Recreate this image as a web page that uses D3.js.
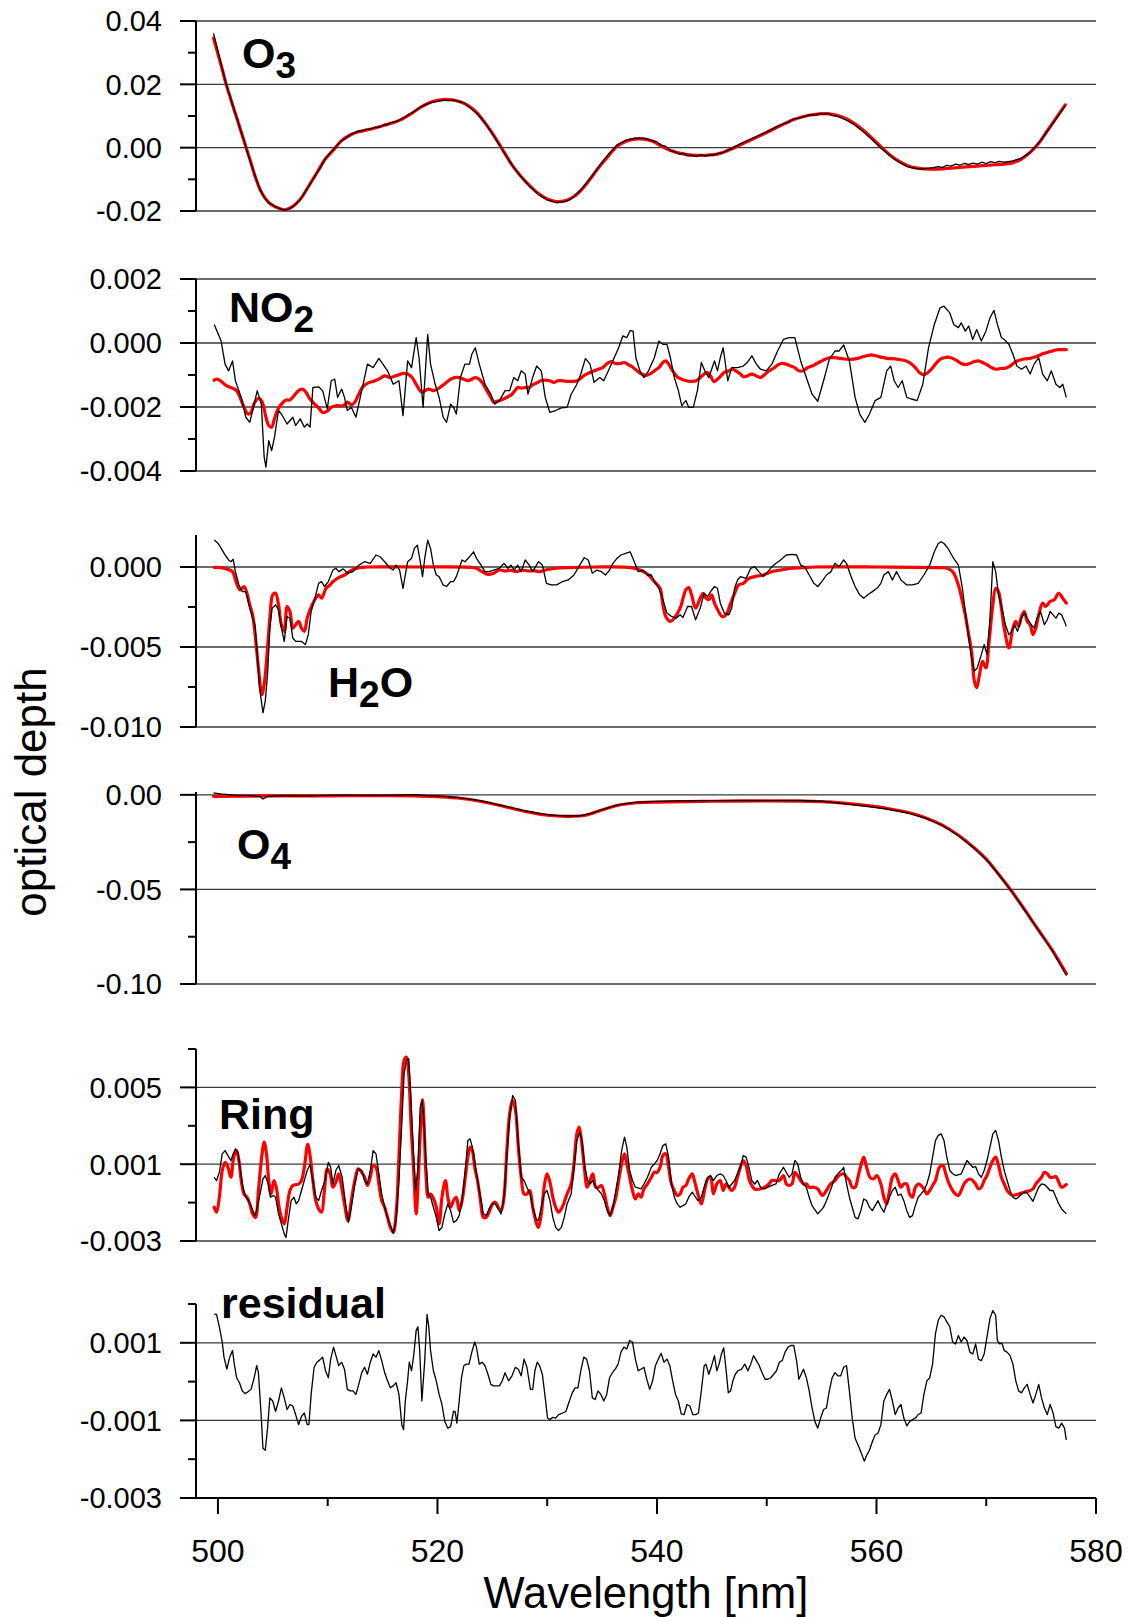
<!DOCTYPE html>
<html>
<head>
<meta charset="utf-8">
<script src="https://cdn.jsdelivr.net/npm/d3@7"></script>
<style>
  body { margin: 0; background: #fff; }
  svg { display: block; }
  text { font-family: "Liberation Sans", Arial, Helvetica, sans-serif; fill: #000; }
</style>
</head>
<body>
<svg id="chart" width="1128" height="1617"></svg>
<script>
// ---------------------------------------------------------------------------
// DOAS fit, 500-577 nm: measured optical depth per absorber (black) and the
// fitted cross section (red); bottom panel shows the fit residual.
// Each series is a list of [wavelength (nm), optical depth].
// ---------------------------------------------------------------------------

const wavelengthTicks = [500, 520, 540, 560, 580];
const wavelengthMinorTicks = [510, 530, 550, 570];

// ---- O3 ----
const o3Ticks = [0.04, 0.02, 0.00, -0.02];
const o3Minor = [0.03, 0.01, -0.01];
const o3Fit = [
  [499.6,0.0346],[500.0,0.0296],[500.4,0.0246],[500.75,0.02],[501.2,0.015],[501.6,0.0106],[502.0,0.0063],
  [502.3,0.003],[502.57,0.0],[503.0,-0.0047],[503.4,-0.0092],[503.85,-0.0133],[504.3,-0.0160],[504.8,-0.0178],
  [505.37,-0.0189],[506.13,-0.0196],[506.8,-0.0186],[507.5,-0.0163],[508.2,-0.0125],[509.0,-0.008],[509.8,-0.0035],
  [510.53,-0.0007],[511.2,0.002],[512.05,0.004],[512.8,0.005],[513.57,0.0056],[514.3,0.0062],[515.08,0.007],
  [515.8,0.0077],[516.6,0.0087],[517.5,0.0105],[518.5,0.0128],[519.5,0.0145],[520.5,0.0152],[521.3,0.0151],
  [522.0,0.0146],[522.8,0.0133],[523.6,0.011],[524.4,0.0075],[525.2,0.0035],[526.0,-0.001],[526.8,-0.0055],
  [527.6,-0.009],[528.4,-0.012],[529.2,-0.0145],[530.0,-0.0162],[530.8,-0.017],[531.6,-0.0168],[532.4,-0.0155],
  [533.2,-0.013],[534.0,-0.0095],[534.8,-0.0058],[535.6,-0.0025],[536.4,0.0005],[537.2,0.002],[538.0,0.0027],
  [538.8,0.0027],[539.6,0.002],[540.4,0.0005],[541.2,-0.0008],[542.0,-0.0017],[542.8,-0.0022],[543.6,-0.0024],
  [544.4,-0.0024],[545.2,-0.0022],[546.0,-0.0015],[546.8,-0.0004],[547.6,0.0009],[548.4,0.0022],[549.2,0.0035],
  [550.0,0.0048],[550.8,0.0062],[551.6,0.0075],[552.4,0.0088],[553.2,0.0097],[554.0,0.0103],[554.8,0.0107],
  [555.6,0.0107],[556.4,0.0102],[557.2,0.0092],[558.0,0.0076],[558.8,0.0055],[559.6,0.003],[560.4,0.0003],
  [561.2,-0.0022],[562.0,-0.0042],[562.8,-0.0056],[563.6,-0.0064],[564.4,-0.0067],[565.2,-0.0068],[566.0,-0.0067],
  [566.8,-0.0065],[567.6,-0.0062],[568.4,-0.006],[569.2,-0.0058],[570.0,-0.0056],[570.8,-0.0054],[571.6,-0.0052],
  [572.4,-0.0048],[573.2,-0.0036],[574.0,-0.0015],[574.8,0.0015],[575.6,0.0055],[576.4,0.0095],[577.2,0.0135]
];
const o3Meas = [
  [499.6,0.0361],[500.0,0.0305],[500.4,0.0249],[500.75,0.0201],[501.2,0.0149],[501.6,0.0107],[502.0,0.0061],
  [502.3,0.0031],[502.57,-0.0002],[503.0,-0.0049],[503.4,-0.009],[503.85,-0.0134],[504.2,-0.0155],[504.6,-0.0175],
  [505.0,-0.0181],[505.37,-0.0189],[505.8,-0.0195],[506.13,-0.0197],[506.5,-0.0193],[506.9,-0.0184],[507.5,-0.0164],
  [508.2,-0.0126],[508.6,-0.0103],[509.0,-0.0081],[509.4,-0.006],[509.8,-0.0033],[510.2,-0.0017],[510.53,-0.0006],
  [511.2,0.0021],[511.7,0.0032],[512.05,0.0041],[512.8,0.0052],[513.3,0.0055],[513.57,0.0058],[514.0,0.006],
  [514.3,0.0064],[514.7,0.0065],[515.08,0.0071],[515.5,0.0074],[515.8,0.008],[516.2,0.0082],[516.6,0.0089],
  [517.0,0.0096],[517.5,0.0107],[518.0,0.0117],[518.5,0.013],[519.0,0.0137],[519.5,0.0143],[520.0,0.0146],
  [520.5,0.015],[521.0,0.0149],[521.5,0.015],[522.0,0.0145],[522.4,0.0142],[522.8,0.0131],[523.6,0.0108],
  [524.4,0.0076],[525.2,0.0033],[526.0,-0.0012],[526.8,-0.0054],[527.6,-0.0092],[528.4,-0.0122],[529.2,-0.0148],
  [530.0,-0.0165],[530.5,-0.017],[530.8,-0.0174],[531.2,-0.0172],[531.6,-0.017],[532.0,-0.0166],[532.4,-0.0156],
  [533.2,-0.0128],[534.0,-0.0093],[534.8,-0.0055],[535.6,-0.002],[536.4,0.001],[537.2,0.0024],[538.0,0.003],
  [538.8,0.003],[539.6,0.0022],[540.0,0.0018],[540.4,0.0008],[540.8,0.0004],[541.2,-0.001],[541.6,-0.0012],
  [542.0,-0.002],[542.4,-0.0018],[542.8,-0.0026],[543.2,-0.0024],[543.6,-0.0028],[544.0,-0.0022],[544.4,-0.0027],
  [544.8,-0.0023],[545.2,-0.0024],[545.6,-0.0018],[546.0,-0.0016],[546.8,-0.0002],[547.6,0.0012],[548.4,0.0025],
  [549.2,0.0037],[550.0,0.005],[550.8,0.0064],[551.6,0.0077],[552.0,0.0081],[552.4,0.009],[553.2,0.0096],
  [553.6,0.01],[554.0,0.0104],[554.4,0.0102],[554.8,0.0108],[555.2,0.0105],[555.6,0.0109],[556.0,0.0101],
  [556.4,0.01],[557.2,0.0088],[558.0,0.0072],[558.8,0.005],[559.6,0.0025],[560.4,-0.0001],[561.2,-0.0025],
  [562.0,-0.0045],[562.8,-0.006],[563.6,-0.0066],[564.0,-0.0068],[564.4,-0.0066],[565.2,-0.0063],[565.6,-0.006],
  [566.0,-0.0062],[566.4,-0.0056],[566.8,-0.0058],[567.2,-0.0052],[567.6,-0.0055],[568.0,-0.005],[568.4,-0.0053],
  [568.8,-0.0049],[569.2,-0.0052],[569.6,-0.0046],[570.0,-0.005],[570.4,-0.0044],[570.8,-0.0047],[571.2,-0.0043],
  [571.6,-0.0046],[572.0,-0.0044],[572.4,-0.0042],[573.2,-0.0033],[574.0,-0.0014],[574.8,0.0016],[575.6,0.0054],
  [576.4,0.0093],[577.2,0.0132]
];

// ---- NO2 ----
const no2Ticks = [0.002, 0.000, -0.002, -0.004];
const no2Minor = [0.001, -0.001, -0.003];
const no2Fit = [
  [499.66,-1.16e-3],[499.92,-1.13e-3],[500.29,-1.2e-3],[500.81,-1.34e-3],[501.33,-1.41e-3],[501.7,-1.49e-3],
  [502.01,-1.7e-3],[502.38,-2.01e-3],[502.74,-2.22e-3],[503.01,-2.17e-3],[503.27,-1.91e-3],[503.58,-1.75e-3],
  [503.84,-1.75e-3],[504.1,-1.91e-3],[504.37,-2.32e-3],[504.63,-2.58e-3],[504.89,-2.63e-3],[505.15,-2.37e-3],
  [505.41,-2.11e-3],[505.78,-1.91e-3],[506.2,-1.78e-3],[506.56,-1.78e-3],[506.93,-1.65e-3],[507.35,-1.49e-3],
  [507.71,-1.44e-3],[508.02,-1.54e-3],[508.39,-1.75e-3],[508.81,-1.91e-3],[509.17,-2.03e-3],[509.54,-2.17e-3],
  [509.96,-2.13e-3],[510.32,-2.01e-3],[510.74,-1.96e-3],[511.42,-1.96e-3],[511.79,-1.85e-3],[512.15,-1.93e-3],
  [512.47,-1.85e-3],[512.83,-1.6e-3],[513.2,-1.37e-3],[513.62,-1.26e-3],[514.14,-1.2e-3],[514.66,-1.13e-3],
  [515.19,-1.03e-3],[515.71,-1.08e-3],[516.13,-1.03e-3],[516.49,-0.99e-3],[516.86,-0.95e-3],[517.28,-0.97e-3],
  [517.69,-1.08e-3],[518.06,-1.29e-3],[518.32,-1.44e-3],[518.58,-1.54e-3],[518.84,-1.49e-3],[519.21,-1.44e-3],
  [519.63,-1.49e-3],[519.99,-1.44e-3],[520.41,-1.34e-3],[520.83,-1.23e-3],[521.2,-1.13e-3],[521.56,-1.08e-3],
  [521.98,-1.08e-3],[522.4,-1.13e-3],[522.77,-1.18e-3],[523.13,-1.13e-3],[523.45,-1.08e-3],[523.81,-1.13e-3],
  [524.18,-1.29e-3],[524.5,-1.49e-3],[524.86,-1.7e-3],[525.12,-1.85e-3],[525.38,-1.82e-3],[525.64,-1.8e-3],
  [526.01,-1.75e-3],[526.43,-1.68e-3],[526.79,-1.6e-3],[527.1,-1.47e-3],[527.31,-1.39e-3],[527.63,-1.41e-3],
  [527.99,-1.39e-3],[528.36,-1.39e-3],[528.67,-1.31e-3],[529.04,-1.25e-3],[529.4,-1.18e-3],[529.82,-1.16e-3],
  [530.24,-1.18e-3],[530.61,-1.23e-3],[530.97,-1.18e-3],[531.39,-1.18e-3],[531.91,-1.2e-3],[532.33,-1.2e-3],
  [532.75,-1.18e-3],[533.06,-1.1e-3],[533.48,-0.99e-3],[533.9,-0.92e-3],[534.27,-0.87e-3],[534.63,-0.82e-3],
  [535.05,-0.77e-3],[535.47,-0.64e-3],[535.83,-0.58e-3],[536.2,-0.64e-3],[536.62,-0.64e-3],[537.04,-0.61e-3],
  [537.4,-0.68e-3],[537.77,-0.75e-3],[538.19,-0.87e-3],[538.6,-0.97e-3],[539.02,-1.01e-3],[539.34,-0.97e-3],
  [539.76,-0.87e-3],[540.17,-0.77e-3],[540.54,-0.61e-3],[540.8,-0.56e-3],[541.06,-0.66e-3],[541.43,-0.87e-3],
  [541.85,-1.06e-3],[542.26,-1.13e-3],[542.68,-1.18e-3],[543.15,-1.2e-3],[543.57,-1.18e-3],[543.94,-1.08e-3],
  [544.3,-0.97e-3],[544.62,-0.92e-3],[544.88,-1.03e-3],[545.19,-1.21e-3],[545.51,-1.13e-3],[545.82,-1.03e-3],
  [546.13,-0.92e-3],[546.55,-0.87e-3],[546.87,-0.82e-3],[547.18,-0.87e-3],[547.6,-0.97e-3],[547.91,-1.06e-3],
  [548.22,-1.03e-3],[548.64,-0.97e-3],[549.06,-1.03e-3],[549.43,-1.08e-3],[549.79,-0.99e-3],[550.21,-0.87e-3],
  [550.63,-0.79e-3],[550.99,-0.69e-3],[551.36,-0.64e-3],[551.78,-0.66e-3],[552.2,-0.72e-3],[552.56,-0.77e-3],
  [552.93,-0.87e-3],[553.35,-0.87e-3],[553.71,-0.77e-3],[554.13,-0.72e-3],[554.55,-0.64e-3],[554.91,-0.58e-3],
  [555.33,-0.51e-3],[555.7,-0.46e-3],[556.22,-0.46e-3],[556.74,-0.48e-3],[557.53,-0.51e-3],[558.31,-0.48e-3],
  [558.68,-0.44e-3],[559.1,-0.4e-3],[559.52,-0.37e-3],[559.94,-0.4e-3],[560.4,-0.44e-3],[560.93,-0.48e-3],
  [561.45,-0.49e-3],[561.97,-0.51e-3],[562.49,-0.54e-3],[563.02,-0.61e-3],[563.54,-0.77e-3],[563.91,-0.92e-3],
  [564.32,-0.99e-3],[564.69,-0.92e-3],[565.0,-0.82e-3],[565.37,-0.66e-3],[565.79,-0.51e-3],[566.15,-0.46e-3],
  [566.52,-0.44e-3],[566.94,-0.48e-3],[567.36,-0.56e-3],[567.72,-0.64e-3],[568.09,-0.68e-3],[568.51,-0.64e-3],
  [568.92,-0.58e-3],[569.29,-0.56e-3],[569.66,-0.61e-3],[570.07,-0.68e-3],[570.49,-0.77e-3],[570.91,-0.82e-3],
  [571.38,-0.79e-3],[571.75,-0.79e-3],[572.17,-0.72e-3],[572.58,-0.61e-3],[573.0,-0.54e-3],[573.47,-0.5e-3],
  [574.0,-0.48e-3],[574.41,-0.44e-3],[574.78,-0.39e-3],[575.2,-0.33e-3],[575.62,-0.29e-3],[576.03,-0.25e-3],
  [576.45,-0.21e-3],[576.87,-0.21e-3],[577.29,-0.21e-3]
];
const no2Meas = [
  [499.66,0.58e-3],[500.29,0.06e-3],[500.65,-0.66e-3],[500.97,-0.87e-3],[501.33,-0.56e-3],[501.59,-1.18e-3],
  [502.12,-1.7e-3],[502.54,-2.32e-3],[502.9,-2.48e-3],[503.16,-2.11e-3],[503.58,-1.49e-3],[503.95,-1.91e-3],
  [504.21,-3.56e-3],[504.37,-3.88e-3],[504.63,-3.05e-3],[504.89,-3.36e-3],[505.15,-2.94e-3],[505.52,-2.11e-3],
  [505.78,-2.22e-3],[506.3,-2.53e-3],[506.82,-2.32e-3],[507.08,-2.58e-3],[507.5,-2.37e-3],[507.87,-2.63e-3],
  [508.13,-2.53e-3],[508.39,-2.63e-3],[508.65,-1.39e-3],[509.17,-1.37e-3],[509.54,-1.49e-3],[509.96,-2.06e-3],
  [510.32,-1.18e-3],[510.64,-1.13e-3],[510.9,-1.7e-3],[511.27,-1.44e-3],[511.53,-1.7e-3],[511.79,-2.11e-3],
  [512.15,-2.01e-3],[512.57,-2.32e-3],[513.1,-1.49e-3],[513.62,-0.66e-3],[514.14,-0.77e-3],[514.66,-0.48e-3],
  [515.03,-0.66e-3],[515.45,-0.87e-3],[515.97,-1.29e-3],[516.49,-1.18e-3],[516.86,-2.27e-3],[517.28,-0.56e-3],
  [517.64,-0.77e-3],[518.06,0.17e-3],[518.32,-0.46e-3],[518.69,-2.01e-3],[519.11,0.27e-3],[519.37,-0.66e-3],
  [519.79,-1.29e-3],[520.15,-1.7e-3],[520.52,-2.32e-3],[520.83,-2.48e-3],[521.2,-1.91e-3],[521.46,-2.01e-3],
  [521.72,-2.22e-3],[522.09,-1.08e-3],[522.5,-0.66e-3],[522.92,-0.66e-3],[523.13,-0.35e-3],[523.45,-0.15e-3],
  [523.81,-0.66e-3],[524.33,-1.29e-3],[524.86,-1.6e-3],[525.22,-1.91e-3],[525.64,-1.8e-3],[526.16,-1.49e-3],
  [526.58,-1.49e-3],[526.95,-1.08e-3],[527.31,-1.18e-3],[527.63,-0.87e-3],[527.99,-0.97e-3],[528.25,-1.6e-3],
  [528.67,-1.08e-3],[529.04,-0.72e-3],[529.46,-0.87e-3],[529.82,-1.7e-3],[530.24,-2.17e-3],[530.76,-2.11e-3],
  [531.29,-2.03e-3],[531.81,-2.01e-3],[532.18,-1.6e-3],[532.7,-1.29e-3],[533.06,-0.97e-3],[533.48,-0.48e-3],
  [533.9,-0.66e-3],[534.27,-1.23e-3],[534.79,-1.08e-3],[535.15,-1.18e-3],[535.57,-0.87e-3],[536.1,-0.46e-3],
  [536.51,-0.15e-3],[536.88,0.22e-3],[537.25,0.17e-3],[537.56,0.39e-3],[537.82,0.37e-3],[538.08,-0.46e-3],
  [538.45,-0.87e-3],[538.81,-1.08e-3],[539.23,-0.87e-3],[539.76,-0.46e-3],[540.17,0.06e-3],[540.54,-0.04e-3],
  [540.91,-0.04e-3],[541.22,-0.46e-3],[541.58,-1.08e-3],[541.95,-1.49e-3],[542.26,-1.96e-3],[542.63,-1.8e-3],
  [542.89,-2.01e-3],[543.31,-2.01e-3],[543.68,-1.49e-3],[544.04,-0.61e-3],[544.36,-0.87e-3],[544.72,-1.08e-3],
  [545.24,-0.56e-3],[545.51,-0.87e-3],[545.77,-0.46e-3],[546.03,-0.15e-3],[546.45,-1.18e-3],[546.81,-0.77e-3],
  [547.34,-0.77e-3],[547.86,-0.72e-3],[548.22,-0.61e-3],[548.64,-0.4e-3],[549.06,-0.66e-3],[549.43,-0.82e-3],
  [549.95,-0.87e-3],[550.47,-0.66e-3],[550.99,-0.25e-3],[551.52,0.11e-3],[552.04,0.17e-3],[552.56,0.17e-3],
  [553.09,-0.56e-3],[553.61,-1.08e-3],[554.13,-1.6e-3],[554.65,-1.82e-3],[555.18,-1.18e-3],[555.7,-0.51e-3],
  [556.22,-0.25e-3],[556.59,-0.25e-3],[557.01,-0.06e-3],[557.53,-0.56e-3],[558.05,-1.7e-3],[558.47,-2.22e-3],
  [558.94,-2.48e-3],[559.36,-2.22e-3],[559.88,-1.8e-3],[560.4,-1.7e-3],[560.93,-0.87e-3],[561.29,-0.72e-3],
  [561.61,-1.18e-3],[561.97,-1.39e-3],[562.34,-1.18e-3],[562.76,-1.7e-3],[563.17,-1.75e-3],[563.7,-1.8e-3],
  [564.22,-1.29e-3],[564.74,-0.15e-3],[565.27,0.58e-3],[565.79,1.1e-3],[566.15,1.15e-3],[566.68,0.94e-3],
  [567.04,0.58e-3],[567.46,0.48e-3],[567.72,0.63e-3],[568.09,0.37e-3],[568.4,0.53e-3],[568.77,0.11e-3],
  [569.13,0.42e-3],[569.55,0.06e-3],[569.97,0.37e-3],[570.34,0.79e-3],[570.7,1.02e-3],[571.02,0.58e-3],
  [571.38,0.17e-3],[571.64,0.11e-3],[572.06,-0.04e-3],[572.43,-0.35e-3],[572.79,-0.72e-3],[573.21,-0.82e-3],
  [573.63,-0.72e-3],[574.0,-0.97e-3],[574.36,-0.66e-3],[574.78,-0.46e-3],[575.14,-0.97e-3],[575.56,-1.18e-3],
  [575.93,-0.87e-3],[576.35,-1.29e-3],[576.71,-1.39e-3],[576.97,-1.29e-3],[577.29,-1.7e-3]
];

// ---- H2O ----
const h2oTicks = [0.000, -0.005, -0.010];
const h2oMinor = [-0.0025, -0.0075];
const h2oFit = [
  [499.66,-0.02e-3],[500.29,-0.04e-3],[501.07,-0.19e-3],[501.33,-0.29e-3],[501.7,-1.02e-3],[502.01,-1.43e-3],
  [502.38,-1.22e-3],[502.64,-1.64e-3],[502.9,-2.37e-3],[503.16,-2.99e-3],[503.42,-4.44e-3],[503.69,-6.31e-3],
  [504.0,-7.97e-3],[504.21,-7.34e-3],[504.47,-5.48e-3],[504.73,-3.2e-3],[504.99,-1.74e-3],[505.25,-1.64e-3],
  [505.52,-2.37e-3],[505.78,-3.61e-3],[506.04,-4.02e-3],[506.3,-2.47e-3],[506.56,-2.78e-3],[506.82,-3.82e-3],
  [507.08,-3.61e-3],[507.35,-3.4e-3],[507.61,-3.82e-3],[507.87,-4.02e-3],[508.13,-3.2e-3],[508.39,-2.68e-3],
  [508.91,-1.95e-3],[509.17,-1.74e-3],[509.44,-1.95e-3],[509.85,-1.33e-3],[510.22,-1.12e-3],[510.48,-0.91e-3],
  [511.0,-0.66e-3],[511.53,-0.5e-3],[512.05,-0.25e-3],[512.83,-0.04e-3],[513.62,0.0],[518.0,0.0],[523.03,-0.02e-3],
  [523.55,-0.08e-3],[524.07,-0.29e-3],[524.6,-0.46e-3],[525.12,-0.39e-3],[525.64,-0.19e-3],[526.16,-0.25e-3],
  [526.69,-0.21e-3],[527.21,-0.29e-3],[527.73,-0.19e-3],[528.25,-0.25e-3],[528.78,-0.23e-3],[529.3,-0.29e-3],
  [529.82,-0.19e-3],[530.87,-0.08e-3],[531.91,-0.04e-3],[534.53,0.0],[537.66,-0.04e-3],[538.45,-0.19e-3],
  [539.23,-0.5e-3],[539.76,-0.91e-3],[540.28,-1.33e-3],[540.54,-2.37e-3],[540.8,-3.09e-3],[541.22,-3.4e-3],
  [541.58,-3.2e-3],[542.11,-2.57e-3],[542.63,-1.43e-3],[542.89,-1.29e-3],[543.15,-1.74e-3],[543.52,-2.57e-3],
  [543.94,-1.95e-3],[544.2,-1.64e-3],[544.46,-1.95e-3],[544.72,-2.05e-3],[544.98,-1.74e-3],[545.24,-2.26e-3],
  [545.61,-2.78e-3],[545.93,-3.09e-3],[546.29,-2.99e-3],[546.66,-2.37e-3],[547.07,-1.64e-3],[547.44,-1.12e-3],
  [547.86,-1.02e-3],[548.38,-0.71e-3],[548.9,-0.6e-3],[549.69,-0.5e-3],[550.47,-0.29e-3],[551.26,-0.19e-3],
  [552.3,-0.08e-3],[553.35,-0.04e-3],[554.39,0.0],[560.0,0.0],[565.89,-0.04e-3],[566.42,-0.08e-3],
  [566.94,-0.29e-3],[567.46,-1.12e-3],[567.83,-2.16e-3],[568.09,-2.99e-3],[568.4,-4.23e-3],[568.66,-5.27e-3],
  [568.92,-7.14e-3],[569.13,-7.55e-3],[569.39,-6.72e-3],[569.66,-5.89e-3],[569.97,-6.31e-3],[570.23,-4.85e-3],
  [570.6,-2.37e-3],[570.86,-1.33e-3],[571.12,-1.54e-3],[571.38,-2.57e-3],[571.64,-3.82e-3],[572.06,-5.06e-3],
  [572.43,-3.82e-3],[572.69,-3.4e-3],[572.95,-3.71e-3],[573.21,-3.09e-3],[573.47,-2.78e-3],[573.73,-3.4e-3],
  [574.0,-3.61e-3],[574.26,-4.23e-3],[574.52,-3.82e-3],[574.78,-2.99e-3],[575.14,-2.26e-3],[575.4,-2.47e-3],
  [575.82,-2.16e-3],[576.19,-2.05e-3],[576.61,-1.64e-3],[576.97,-1.95e-3],[577.29,-2.26e-3]
];
const h2oMeas = [
  [499.66,1.68e-3],[500.03,1.47e-3],[500.39,1.06e-3],[500.65,0.75e-3],[500.97,0.44e-3],[501.18,0.33e-3],
  [501.39,0.48e-3],[501.59,-0.29e-3],[501.91,-1.12e-3],[502.22,-1.54e-3],[502.54,-1.54e-3],[502.9,-2.57e-3],
  [503.16,-3.2e-3],[503.37,-3.61e-3],[503.58,-5.48e-3],[503.79,-7.55e-3],[504.1,-9.11e-3],[504.31,-8.38e-3],
  [504.52,-6.72e-3],[504.73,-3.82e-3],[504.94,-2.57e-3],[505.25,-2.37e-3],[505.52,-2.68e-3],[505.78,-3.82e-3],
  [506.04,-4.65e-3],[506.3,-3.09e-3],[506.56,-3.2e-3],[506.82,-4.44e-3],[507.08,-4.65e-3],[507.61,-4.65e-3],
  [507.97,-4.85e-3],[508.23,-4.23e-3],[508.49,-2.78e-3],[508.91,-1.74e-3],[509.17,-1.02e-3],[509.44,-0.91e-3],
  [509.7,-1.22e-3],[510.06,-0.91e-3],[510.48,-0.19e-3],[510.74,-0.08e-3],[511.0,-0.29e-3],[511.42,-0.12e-3],
  [511.79,-0.39e-3],[512.31,-0.29e-3],[512.83,0.12e-3],[513.36,0.33e-3],[513.88,0.23e-3],[514.4,0.75e-3],
  [514.77,0.64e-3],[515.19,0.33e-3],[515.71,-0.08e-3],[515.97,-0.19e-3],[516.23,0.12e-3],[516.55,-0.19e-3],
  [516.86,-1.33e-3],[517.28,0.33e-3],[517.64,0.54e-3],[517.9,1.16e-3],[518.17,1.37e-3],[518.43,0.33e-3],
  [518.64,-0.6e-3],[518.84,0.54e-3],[519.11,1.68e-3],[519.37,1.16e-3],[519.63,0.12e-3],[519.89,-0.5e-3],
  [520.15,-0.6e-3],[520.52,-1.12e-3],[520.83,-1.22e-3],[521.2,-0.91e-3],[521.46,-0.91e-3],[521.72,-0.6e-3],
  [521.98,-0.08e-3],[522.24,0.44e-3],[522.5,0.33e-3],[522.92,0.64e-3],[523.29,0.95e-3],[523.55,0.54e-3],
  [523.97,0.12e-3],[524.33,-0.29e-3],[524.7,-0.29e-3],[525.12,-0.19e-3],[525.64,-0.08e-3],[526.06,0.23e-3],
  [526.43,-0.08e-3],[526.69,0.12e-3],[527.0,-0.19e-3],[527.31,0.12e-3],[527.63,-0.29e-3],[527.99,0.44e-3],
  [528.36,0.12e-3],[528.67,-0.29e-3],[528.94,0.02e-3],[529.2,0.33e-3],[529.56,0.12e-3],[529.93,-1.02e-3],
  [530.35,-1.12e-3],[530.87,-1.12e-3],[531.39,-0.91e-3],[531.91,-0.81e-3],[532.44,-0.5e-3],[532.96,0.12e-3],
  [533.38,0.58e-3],[533.74,0.44e-3],[534.11,-0.39e-3],[534.53,-0.19e-3],[534.94,-0.29e-3],[535.31,-0.5e-3],
  [535.68,-0.19e-3],[535.99,0.23e-3],[536.36,0.54e-3],[536.72,0.75e-3],[537.14,0.85e-3],[537.56,0.95e-3],
  [537.93,0.33e-3],[538.29,-0.29e-3],[538.71,-0.19e-3],[539.13,-0.5e-3],[539.49,-0.5e-3],[539.76,-0.91e-3],
  [540.17,-1.33e-3],[540.54,-2.05e-3],[540.91,-2.88e-3],[541.32,-3.09e-3],[541.74,-3.2e-3],[542.11,-2.99e-3],
  [542.37,-3.15e-3],[542.79,-2.47e-3],[543.15,-2.47e-3],[543.52,-3.3e-3],[543.94,-2.57e-3],[544.3,-1.64e-3],
  [544.62,-1.85e-3],[544.88,-1.54e-3],[545.24,-1.22e-3],[545.51,-1.33e-3],[545.77,-2.26e-3],[546.13,-2.88e-3],
  [546.55,-2.99e-3],[546.81,-2.57e-3],[547.07,-1.33e-3],[547.34,-0.81e-3],[547.6,-0.6e-3],[548.12,-0.71e-3],
  [548.54,-0.08e-3],[548.9,0.02e-3],[549.27,-0.29e-3],[549.69,-0.6e-3],[550.11,-0.29e-3],[550.47,0.02e-3],
  [550.84,0.23e-3],[551.26,0.44e-3],[551.78,0.75e-3],[552.3,0.79e-3],[552.72,0.75e-3],[553.09,0.12e-3],
  [553.45,0.02e-3],[553.87,-0.5e-3],[554.29,-1.02e-3],[554.65,-1.22e-3],[555.02,-0.91e-3],[555.44,-0.5e-3],
  [555.85,-0.29e-3],[556.22,0.23e-3],[556.59,0.02e-3],[557.01,0.44e-3],[557.27,0.23e-3],[557.63,-0.5e-3],
  [558.05,-1.22e-3],[558.47,-1.74e-3],[558.84,-1.95e-3],[559.2,-1.74e-3],[559.62,-1.54e-3],[560.04,-1.33e-3],
  [560.4,-1.02e-3],[560.67,-0.5e-3],[561.08,-0.29e-3],[561.45,-0.81e-3],[561.82,-0.29e-3],[562.23,-0.81e-3],
  [562.76,-1.12e-3],[563.28,-1.12e-3],[563.8,-1.02e-3],[564.32,-0.5e-3],[564.85,0.12e-3],[565.27,0.95e-3],
  [565.63,1.47e-3],[565.89,1.58e-3],[566.15,1.47e-3],[566.52,1.16e-3],[566.94,0.64e-3],[567.46,0.12e-3],
  [567.83,-1.33e-3],[568.24,-3.61e-3],[568.61,-5.48e-3],[568.92,-6.51e-3],[569.18,-6.31e-3],[569.55,-5.48e-3],
  [569.81,-4.85e-3],[570.07,-5.48e-3],[570.34,-3.2e-3],[570.6,0.33e-3],[570.86,-0.29e-3],[571.12,-1.74e-3],
  [571.43,-2.57e-3],[571.75,-3.61e-3],[572.06,-4.23e-3],[572.32,-4.02e-3],[572.58,-3.61e-3],[572.85,-4.02e-3],
  [573.21,-3.2e-3],[573.47,-2.88e-3],[573.73,-3.2e-3],[574.1,-3.61e-3],[574.36,-3.82e-3],[574.62,-3.2e-3],
  [574.94,-2.78e-3],[575.3,-3.61e-3],[575.56,-3.3e-3],[575.82,-2.78e-3],[576.09,-2.99e-3],[576.35,-3.2e-3],
  [576.61,-2.88e-3],[576.87,-2.99e-3],[577.13,-3.4e-3],[577.29,-3.71e-3]
];

// ---- O4 ----
const o4Ticks = [0.00, -0.05, -0.10];
const o4Minor = [-0.025, -0.075];
const o4Fit = [
  [499.6,-0.0008],[505,-0.0006],[510,-0.0005],[515,-0.0004],[518,-0.0005],[520,-0.001],[522,-0.0018],
  [524,-0.0035],[526,-0.006],[528,-0.0088],[530,-0.0108],[532,-0.0114],[533.5,-0.0108],[535,-0.008],
  [536.5,-0.0055],[538,-0.0043],[540,-0.0038],[545,-0.0034],[550,-0.0032],[553,-0.0033],[555,-0.0036],
  [557,-0.0044],[559,-0.0056],[561,-0.0072],[563,-0.0095],[564.5,-0.0122],[566,-0.016],[567.5,-0.0215],
  [569,-0.0285],[570,-0.034],[571,-0.041],[572,-0.0485],[573,-0.0565],[574,-0.065],[575,-0.0735],
  [576,-0.082],[577.3,-0.0945]
];
const o4Meas = [
  [499.6,0.001],[500.5,0.0003],[501.5,-0.0002],[503,-0.0004],[503.8,-0.0008],[504.1,-0.0022],[504.5,-0.0008],
  [506,-0.0004],[508,-0.0005],[510,-0.0003],[512,-0.0002],[514,-0.0003],[516,-0.0001],[518,0.0001],
  [519,-0.0004],[520,-0.0006],[522,-0.0015],[524,-0.0032],[526,-0.0058],[528,-0.0085],[530,-0.0105],
  [531,-0.011],[532,-0.0112],[533,-0.0111],[534,-0.0098],[535,-0.0078],[536.5,-0.0052],[538,-0.004],
  [540,-0.0035],[542,-0.0032],[545,-0.0031],[548,-0.003],[550,-0.0031],[553,-0.003],[555,-0.0034],
  [557,-0.0046],[559,-0.006],[561,-0.0075],[563,-0.0098],[564.5,-0.0124],[566,-0.0162],[567.5,-0.0217],
  [569,-0.0287],[570,-0.0342],[571,-0.0412],[572,-0.0487],[573,-0.0567],[574,-0.0652],[575,-0.0737],
  [576,-0.0822],[577.3,-0.0955]
];

// ---- Ring ----
const ringTicks = [0.005, 0.001, -0.003];
const ringMinor = [0.007, 0.003, -0.001];
const ringFit = [
  [499.66,-1.24e-3],[499.87,-1.5e-3],[500.13,-0.72e-3],[500.39,0.67e-3],[500.65,1.1e-3],[500.91,0.84e-3],
  [501.18,0.32e-3],[501.44,1.37e-3],[501.7,1.71e-3],[501.91,1.19e-3],[502.12,0.15e-3],[502.38,-0.55e-3],
  [502.64,-0.72e-3],[502.9,-1.07e-3],[503.16,-1.59e-3],[503.42,-1.77e-3],[503.69,-0.37e-3],[503.95,1.19e-3],
  [504.21,2.15e-3],[504.42,1.54e-3],[504.63,0.15e-3],[504.84,-0.55e-3],[505.1,0.15e-3],[505.31,-0.2e-3],
  [505.57,-1.24e-3],[505.78,-1.77e-3],[506.04,-2.11e-3],[506.3,-1.24e-3],[506.56,-0.37e-3],[506.82,-0.11e-3],
  [507.35,-0.03e-3],[507.61,0.15e-3],[507.87,0.84e-3],[508.18,2.03e-3],[508.39,1.45e-3],[508.65,0.15e-3],
  [508.91,-0.9e-3],[509.17,-1.33e-3],[509.44,-1.5e-3],[509.7,-0.37e-3],[509.96,0.76e-3],[510.22,0.5e-3],
  [510.48,-0.2e-3],[510.74,0.06e-3],[511.0,0.5e-3],[511.27,-0.2e-3],[511.53,-1.07e-3],[511.84,-1.94e-3],
  [512.15,-0.9e-3],[512.47,0.15e-3],[512.78,0.76e-3],[513.1,0.58e-3],[513.36,0.32e-3],[513.62,-0.11e-3],
  [513.88,0.32e-3],[514.14,0.93e-3],[514.4,0.84e-3],[514.66,-0.03e-3],[514.92,-0.9e-3],[515.19,-1.24e-3],
  [515.45,-1.77e-3],[515.71,-2.29e-3],[515.97,-2.55e-3],[516.23,-1.59e-3],[516.49,1.37e-3],[516.75,4.84e-3],
  [516.96,6.41e-3],[517.17,6.58e-3],[517.38,5.71e-3],[517.59,3.1e-3],[517.85,0.5e-3],[518.06,-1.59e-3],
  [518.27,0.5e-3],[518.48,3.1e-3],[518.64,4.36e-3],[518.79,2.93e-3],[518.95,0.5e-3],[519.16,-0.72e-3],
  [519.37,-0.55e-3],[519.58,-0.72e-3],[519.89,-1.24e-3],[520.15,-2.11e-3],[520.41,-0.72e-3],[520.73,0.15e-3],
  [520.94,-0.72e-3],[521.2,-1.24e-3],[521.46,-0.9e-3],[521.72,-0.72e-3],[521.98,-1.42e-3],[522.24,-0.9e-3],
  [522.5,0.15e-3],[522.77,1.37e-3],[522.97,1.89e-3],[523.18,1.71e-3],[523.39,0.84e-3],[523.65,0.15e-3],
  [523.92,-0.9e-3],[524.18,-1.77e-3],[524.44,-1.77e-3],[524.7,-1.5e-3],[525.01,-1.07e-3],[525.27,-0.98e-3],
  [525.54,-1.24e-3],[525.8,-1.42e-3],[526.06,-0.72e-3],[526.32,1.71e-3],[526.58,3.63e-3],[526.85,4.32e-3],
  [527.11,3.8e-3],[527.37,1.89e-3],[527.63,0.32e-3],[527.89,-0.55e-3],[528.15,-0.55e-3],[528.42,-0.37e-3],
  [528.68,-1.24e-3],[528.99,-2.03e-3],[529.2,-2.29e-3],[529.46,-1.59e-3],[529.72,-0.2e-3],[529.98,0.5e-3],
  [530.25,0.06e-3],[530.51,-0.72e-3],[530.77,-1.24e-3],[531.03,-1.5e-3],[531.29,-1.33e-3],[531.55,-0.98e-3],
  [531.81,-0.55e-3],[532.18,-0.03e-3],[532.44,1.02e-3],[532.7,2.58e-3],[532.91,2.93e-3],[533.12,2.23e-3],
  [533.38,0.84e-3],[533.64,-0.2e-3],[533.9,0.15e-3],[534.16,0.5e-3],[534.42,-0.2e-3],[534.68,-0.2e-3],
  [534.94,-0.11e-3],[535.21,-0.55e-3],[535.47,-1.24e-3],[535.73,-1.68e-3],[535.99,-1.24e-3],[536.25,-0.72e-3],
  [536.51,0.15e-3],[536.78,1.02e-3],[537.04,1.54e-3],[537.25,1.02e-3],[537.51,0.32e-3],[537.77,-0.37e-3],
  [538.03,-0.81e-3],[538.29,-0.55e-3],[538.55,-0.72e-3],[538.81,-0.29e-3],[539.13,-0.03e-3],[539.49,0.32e-3],
  [539.76,0.58e-3],[540.02,0.58e-3],[540.28,0.84e-3],[540.54,1.45e-3],[540.8,1.54e-3],[541.06,0.84e-3],
  [541.32,-0.03e-3],[541.58,-0.37e-3],[541.85,-0.63e-3],[542.11,-0.55e-3],[542.37,-0.2e-3],[542.63,-0.11e-3],
  [542.89,0.23e-3],[543.21,0.5e-3],[543.41,0.15e-3],[543.73,-0.55e-3],[544.04,-1.07e-3],[544.3,-0.46e-3],
  [544.62,0.23e-3],[544.88,0.32e-3],[545.14,-0.55e-3],[545.45,-0.03e-3],[545.77,0.15e-3],[546.03,-0.37e-3],
  [546.29,-0.03e-3],[546.55,-0.2e-3],[546.81,-0.37e-3],[547.07,-0.2e-3],[547.33,0.32e-3],[547.6,0.84e-3],
  [547.86,1.19e-3],[548.12,0.93e-3],[548.38,0.23e-3],[548.64,-0.11e-3],[548.9,-0.29e-3],[549.43,-0.29e-3],
  [549.79,-0.2e-3],[550.21,-0.03e-3],[550.47,0.15e-3],[551.15,0.15e-3],[551.52,0.41e-3],[551.78,-0.03e-3],
  [552.04,-0.11e-3],[552.3,-0.03e-3],[552.56,0.58e-3],[552.82,0.41e-3],[553.09,0.15e-3],[553.35,-0.03e-3],
  [553.61,-0.03e-3],[553.87,-0.2e-3],[554.29,-0.2e-3],[554.65,-0.29e-3],[555.07,-0.63e-3],[555.44,-0.37e-3],
  [555.8,-0.03e-3],[556.22,0.15e-3],[556.59,0.41e-3],[557.01,0.5e-3],[557.27,0.32e-3],[557.53,0.15e-3],
  [557.79,-0.2e-3],[558.05,-0.2e-3],[558.31,0.32e-3],[558.57,0.93e-3],[558.84,1.37e-3],[559.1,0.84e-3],
  [559.41,0.32e-3],[559.72,0.23e-3],[560.04,0.41e-3],[560.4,-0.03e-3],[560.67,-0.72e-3],[560.93,-1.07e-3],
  [561.19,-0.37e-3],[561.45,0.32e-3],[561.71,0.5e-3],[561.97,0.15e-3],[562.23,-0.2e-3],[562.49,-0.03e-3],
  [562.76,-0.03e-3],[563.02,-0.55e-3],[563.28,-0.72e-3],[563.54,-0.2e-3],[563.8,-0.03e-3],[564.06,-0.11e-3],
  [564.32,-0.29e-3],[564.59,-0.55e-3],[564.85,-0.37e-3],[565.11,-0.11e-3],[565.37,0.15e-3],[565.74,0.84e-3],
  [566.05,0.93e-3],[566.31,0.5e-3],[566.62,-0.03e-3],[566.94,-0.37e-3],[567.2,-0.55e-3],[567.46,-0.63e-3],
  [567.72,-0.37e-3],[567.98,-0.03e-3],[568.24,0.15e-3],[568.51,0.23e-3],[568.77,0.15e-3],[569.03,-0.03e-3],
  [569.29,-0.29e-3],[569.55,-0.2e-3],[569.81,0.15e-3],[570.07,0.41e-3],[570.34,0.84e-3],[570.6,1.19e-3],
  [570.86,1.37e-3],[571.12,0.93e-3],[571.38,0.32e-3],[571.64,-0.03e-3],[571.9,-0.37e-3],[572.17,-0.55e-3],
  [572.43,-0.63e-3],[572.95,-0.55e-3],[573.47,-0.46e-3],[574.0,-0.37e-3],[574.26,-0.29e-3],[574.52,-0.03e-3],
  [574.78,0.15e-3],[575.04,0.32e-3],[575.3,0.58e-3],[575.56,0.5e-3],[575.82,0.32e-3],[576.09,0.32e-3],
  [576.35,0.36e-3],[576.61,0.06e-3],[576.87,-0.2e-3],[577.29,-0.06e-3]
];
const ringMeas = [
  [499.66,0.32e-3],[499.87,0.15e-3],[500.13,0.58e-3],[500.39,1.54e-3],[500.65,1.71e-3],[500.91,1.45e-3],
  [501.18,1.19e-3],[501.39,1.54e-3],[501.59,1.8e-3],[501.8,1.63e-3],[502.01,0.84e-3],[502.27,-0.2e-3],
  [502.54,-0.72e-3],[502.8,-0.9e-3],[503.06,-1.24e-3],[503.37,-1.68e-3],[503.58,-1.24e-3],[503.84,-0.55e-3],
  [504.1,0.23e-3],[504.31,0.41e-3],[504.57,-0.03e-3],[504.78,-0.72e-3],[505.04,-0.63e-3],[505.25,-0.72e-3],
  [505.52,-1.59e-3],[505.78,-2.11e-3],[506.04,-2.63e-3],[506.2,-2.81e-3],[506.4,-1.94e-3],[506.67,-0.9e-3],
  [506.93,-0.72e-3],[507.14,-1.07e-3],[507.35,-0.9e-3],[507.61,-0.37e-3],[507.87,0.15e-3],[508.13,0.67e-3],
  [508.39,0.98e-3],[508.65,0.15e-3],[508.91,-0.72e-3],[509.17,-0.9e-3],[509.44,-0.37e-3],[509.75,0.15e-3],
  [510.06,1.1e-3],[510.27,0.84e-3],[510.48,-0.03e-3],[510.74,0.67e-3],[511.0,0.93e-3],[511.32,0.32e-3],
  [511.63,-1.07e-3],[511.89,-2.03e-3],[512.15,-1.24e-3],[512.47,-0.03e-3],[512.78,0.76e-3],[513.1,0.67e-3],
  [513.36,0.15e-3],[513.62,-0.03e-3],[513.88,0.67e-3],[514.14,1.71e-3],[514.4,1.54e-3],[514.66,0.5e-3],
  [514.92,-0.55e-3],[515.19,-1.24e-3],[515.45,-1.77e-3],[515.71,-2.2e-3],[515.97,-2.6e-3],[516.23,-1.94e-3],
  [516.49,0.15e-3],[516.75,3.1e-3],[516.96,5.71e-3],[517.17,6.41e-3],[517.38,6.5e-3],[517.59,4.32e-3],
  [517.8,1.71e-3],[518.01,-0.37e-3],[518.22,0.84e-3],[518.43,3.97e-3],[518.59,4.32e-3],[518.74,3.45e-3],
  [518.95,1.19e-3],[519.16,-0.55e-3],[519.37,-0.72e-3],[519.63,-1.24e-3],[519.89,-1.77e-3],[520.15,-2.46e-3],
  [520.41,-2.29e-3],[520.67,-1.59e-3],[520.94,-1.07e-3],[521.2,-1.42e-3],[521.46,-2.03e-3],[521.72,-1.94e-3],
  [521.98,-1.68e-3],[522.24,-0.9e-3],[522.5,0.5e-3],[522.77,2.23e-3],[522.97,2.32e-3],[523.18,1.89e-3],
  [523.39,1.19e-3],[523.65,0.15e-3],[523.92,-0.72e-3],[524.18,-1.59e-3],[524.44,-1.68e-3],[524.7,-1.33e-3],
  [525.01,-1.07e-3],[525.27,-1.07e-3],[525.54,-1.33e-3],[525.8,-1.59e-3],[526.06,-0.72e-3],[526.32,1.37e-3],
  [526.58,3.45e-3],[526.85,4.58e-3],[527.11,4.32e-3],[527.37,2.06e-3],[527.63,0.32e-3],[527.89,0.15e-3],
  [528.15,-0.2e-3],[528.42,-0.55e-3],[528.68,-1.24e-3],[528.99,-1.85e-3],[529.2,-1.94e-3],[529.46,-1.24e-3],
  [529.72,-0.55e-3],[529.98,-0.37e-3],[530.25,-0.9e-3],[530.51,-1.77e-3],[530.77,-2.29e-3],[531.03,-2.46e-3],
  [531.29,-2.29e-3],[531.55,-1.77e-3],[531.81,-1.07e-3],[532.18,-0.55e-3],[532.44,0.84e-3],[532.7,2.23e-3],
  [532.96,2.67e-3],[533.17,2.23e-3],[533.43,0.84e-3],[533.69,0.15e-3],[533.9,-0.03e-3],[534.16,0.15e-3],
  [534.42,-0.2e-3],[534.68,-0.37e-3],[534.94,-0.55e-3],[535.21,-0.9e-3],[535.47,-1.42e-3],[535.73,-1.68e-3],
  [535.99,-1.24e-3],[536.25,-0.37e-3],[536.51,0.5e-3],[536.78,1.71e-3],[537.04,2.41e-3],[537.25,1.89e-3],
  [537.51,0.67e-3],[537.77,0.15e-3],[538.03,-0.2e-3],[538.55,-0.29e-3],[538.81,-0.03e-3],[539.13,0.32e-3],
  [539.49,0.84e-3],[539.76,1.02e-3],[540.02,1.19e-3],[540.28,1.54e-3],[540.54,1.97e-3],[540.8,2.06e-3],
  [541.06,1.37e-3],[541.32,-0.03e-3],[541.58,-0.72e-3],[541.85,-1.07e-3],[542.11,-1.24e-3],[542.37,-1.16e-3],
  [542.63,-1.07e-3],[542.89,-0.72e-3],[543.21,-0.46e-3],[543.41,-0.63e-3],[543.73,-0.9e-3],[544.04,-0.72e-3],
  [544.3,-0.2e-3],[544.62,0.32e-3],[544.88,0.41e-3],[545.14,0.15e-3],[545.45,0.41e-3],[545.77,0.5e-3],
  [546.03,0.41e-3],[546.29,0.15e-3],[546.55,-0.2e-3],[546.81,-0.03e-3],[547.07,0.15e-3],[547.33,0.5e-3],
  [547.6,0.84e-3],[547.86,1.45e-3],[548.12,1.37e-3],[548.38,0.84e-3],[548.64,0.15e-3],[548.9,-0.03e-3],
  [549.16,0.15e-3],[549.43,-0.2e-3],[549.79,-0.29e-3],[550.21,-0.17e-3],[550.84,-0.03e-3],[551.15,0.5e-3],
  [551.52,0.84e-3],[551.78,0.58e-3],[552.04,0.32e-3],[552.3,0.5e-3],[552.56,1.19e-3],[552.82,1.02e-3],
  [553.09,0.32e-3],[553.35,-0.03e-3],[553.61,-0.2e-3],[553.87,-0.72e-3],[554.13,-1.16e-3],[554.65,-1.59e-3],
  [555.18,-1.24e-3],[555.44,-0.9e-3],[555.8,-0.37e-3],[556.22,0.32e-3],[556.48,0.5e-3],[556.8,0.67e-3],
  [557.01,0.84e-3],[557.27,-0.03e-3],[557.53,-0.72e-3],[557.79,-1.24e-3],[558.05,-1.77e-3],[558.31,-1.85e-3],
  [558.57,-1.42e-3],[558.84,-0.81e-3],[559.1,-0.9e-3],[559.36,-1.24e-3],[559.62,-1.42e-3],[559.88,-1.16e-3],
  [560.14,-0.9e-3],[560.4,-1.24e-3],[560.67,-1.5e-3],[560.93,-1.07e-3],[561.19,-0.72e-3],[561.45,-0.37e-3],
  [561.71,-0.2e-3],[561.97,-0.63e-3],[562.23,-0.55e-3],[562.49,-0.9e-3],[562.76,-1.42e-3],[563.02,-1.77e-3],
  [563.28,-1.68e-3],[563.54,-1.16e-3],[563.8,-0.72e-3],[564.06,-0.55e-3],[564.32,-0.37e-3],[564.59,-0.03e-3],
  [564.85,0.5e-3],[565.11,1.37e-3],[565.37,2.23e-3],[565.63,2.5e-3],[565.89,2.58e-3],[566.15,2.23e-3],
  [566.41,1.37e-3],[566.68,0.67e-3],[566.94,0.5e-3],[567.2,0.41e-3],[567.72,0.5e-3],[567.98,0.84e-3],
  [568.24,1.19e-3],[568.51,1.02e-3],[568.77,0.84e-3],[569.03,0.88e-3],[569.29,0.5e-3],[569.55,0.32e-3],
  [569.81,0.67e-3],[570.07,1.19e-3],[570.34,1.89e-3],[570.6,2.58e-3],[570.86,2.76e-3],[571.12,2.23e-3],
  [571.38,1.37e-3],[571.64,0.67e-3],[571.9,0.15e-3],[572.17,-0.37e-3],[572.43,-0.72e-3],[572.69,-0.81e-3],
  [572.95,-0.72e-3],[573.21,-0.55e-3],[573.47,-0.46e-3],[573.73,-0.51e-3],[574.0,-0.72e-3],[574.26,-0.93e-3],
  [574.52,-0.55e-3],[574.78,-0.2e-3],[575.04,-0.03e-3],[575.3,-0.06e-3],[575.56,-0.2e-3],[575.82,-0.37e-3],
  [576.09,-0.37e-3],[576.35,-0.72e-3],[576.61,-1.07e-3],[576.87,-1.33e-3],[577.29,-1.59e-3]
];

// ---- residual ----
const residualTicks = [0.001, -0.001, -0.003];
const residualMinor = [0.002, 0.000, -0.002];
const residual = [
  [499.66,1.74e-3],[499.87,1.73e-3],[500.13,1.41e-3],[500.39,1.02e-3],[500.55,0.63e-3],[500.81,0.32e-3],
  [501.07,0.63e-3],[501.33,0.8e-3],[501.49,0.45e-3],[501.7,0.1e-3],[501.96,-0.03e-3],[502.22,-0.24e-3],
  [502.48,-0.31e-3],[502.74,-0.26e-3],[503.01,-0.2e-3],[503.27,0.06e-3],[503.53,0.41e-3],[503.69,0.23e-3],
  [503.95,-0.94e-3],[504.1,-1.72e-3],[504.31,-1.77e-3],[504.52,-1.2e-3],[504.73,-0.42e-3],[504.99,-0.5e-3],
  [505.25,-0.77e-3],[505.52,-0.5e-3],[505.78,-0.16e-3],[506.04,-0.42e-3],[506.3,-0.72e-3],[506.56,-0.59e-3],
  [506.82,-0.63e-3],[507.08,-0.85e-3],[507.35,-1.11e-3],[507.61,-0.9e-3],[507.87,-0.81e-3],[508.13,-1.11e-3],
  [508.29,-1.11e-3],[508.49,-0.33e-3],[508.76,0.37e-3],[509.02,0.5e-3],[509.28,0.56e-3],[509.54,0.63e-3],
  [509.8,0.28e-3],[510.06,0.1e-3],[510.27,0.58e-3],[510.53,0.89e-3],[510.79,0.63e-3],[511.0,0.41e-3],
  [511.27,0.5e-3],[511.53,0.32e-3],[511.79,-0.2e-3],[512.05,-0.24e-3],[512.31,-0.24e-3],[512.57,-0.33e-3],
  [512.83,-0.07e-3],[513.1,0.23e-3],[513.36,0.37e-3],[513.62,0.19e-3],[513.88,0.5e-3],[514.14,0.71e-3],
  [514.4,0.63e-3],[514.66,0.8e-3],[514.92,0.54e-3],[515.19,0.23e-3],[515.45,0.02e-3],[515.71,-0.16e-3],
  [515.97,-0.11e-3],[516.23,-0.03e-3],[516.49,-0.33e-3],[516.75,-1.11e-3],[516.91,-1.24e-3],[517.07,-0.5e-3],
  [517.28,0.02e-3],[517.43,0.5e-3],[517.64,0.28e-3],[517.85,0.71e-3],[518.06,1.32e-3],[518.22,1.41e-3],
  [518.38,0.8e-3],[518.58,-0.5e-3],[518.84,0.54e-3],[519.05,1.73e-3],[519.21,1.41e-3],[519.37,0.8e-3],
  [519.63,0.28e-3],[519.89,0.02e-3],[520.15,-0.33e-3],[520.41,-0.59e-3],[520.67,-1.03e-3],[520.94,-1.2e-3],
  [521.2,-1.16e-3],[521.46,-0.77e-3],[521.61,-0.77e-3],[521.77,-1.07e-3],[521.98,-0.5e-3],[522.19,0.1e-3],
  [522.4,0.41e-3],[522.61,0.45e-3],[522.87,0.45e-3],[523.13,0.76e-3],[523.39,1.02e-3],[523.55,0.89e-3],
  [523.81,0.45e-3],[524.07,0.5e-3],[524.33,0.41e-3],[524.6,0.19e-3],[524.86,-0.07e-3],[525.12,-0.11e-3],
  [525.64,-0.11e-3],[525.9,0.02e-3],[526.16,0.23e-3],[526.48,0.02e-3],[526.79,0.15e-3],[527.1,0.37e-3],
  [527.37,0.32e-3],[527.63,0.15e-3],[527.89,0.58e-3],[528.15,0.37e-3],[528.47,-0.2e-3],[528.68,-0.2e-3],
  [528.88,0.28e-3],[529.09,0.5e-3],[529.3,0.41e-3],[529.56,0.19e-3],[529.82,-0.42e-3],[530.03,-0.94e-3],
  [530.24,-0.98e-3],[530.5,-0.92e-3],[530.76,-0.94e-3],[531.03,-0.85e-3],[531.39,-0.81e-3],[531.7,-0.77e-3],
  [532.02,-0.5e-3],[532.28,-0.29e-3],[532.54,-0.16e-3],[532.8,-0.16e-3],[533.06,0.28e-3],[533.33,0.63e-3],
  [533.59,0.58e-3],[533.85,0.28e-3],[534.11,-0.42e-3],[534.37,-0.46e-3],[534.63,-0.24e-3],[534.89,-0.33e-3],
  [535.15,-0.5e-3],[535.42,-0.33e-3],[535.68,0.1e-3],[535.94,0.23e-3],[536.2,0.32e-3],[536.46,0.45e-3],
  [536.72,0.76e-3],[536.99,0.89e-3],[537.25,0.84e-3],[537.51,1.06e-3],[537.77,1.02e-3],[538.03,0.58e-3],
  [538.29,0.28e-3],[538.55,0.32e-3],[538.81,0.37e-3],[539.07,0.06e-3],[539.34,-0.2e-3],[539.6,0.02e-3],
  [539.86,0.41e-3],[540.12,0.58e-3],[540.38,0.73e-3],[540.64,0.5e-3],[540.91,0.58e-3],[541.17,0.41e-3],
  [541.43,0.02e-3],[541.69,-0.33e-3],[541.95,-0.5e-3],[542.21,-0.83e-3],[542.47,-0.85e-3],[542.73,-0.59e-3],
  [543.0,-0.63e-3],[543.26,-0.85e-3],[543.52,-0.85e-3],[543.78,-0.81e-3],[544.04,-0.24e-3],[544.3,0.41e-3],
  [544.46,0.45e-3],[544.72,0.19e-3],[544.98,0.41e-3],[545.24,0.67e-3],[545.45,0.28e-3],[545.66,0.45e-3],
  [545.87,0.71e-3],[546.08,0.87e-3],[546.29,0.32e-3],[546.5,-0.29e-3],[546.71,-0.24e-3],[546.92,0.02e-3],
  [547.13,0.19e-3],[547.39,0.28e-3],[547.7,0.32e-3],[548.01,0.45e-3],[548.28,0.28e-3],[548.54,0.45e-3],
  [548.8,0.67e-3],[549.06,0.54e-3],[549.32,0.41e-3],[549.58,0.23e-3],[549.85,0.06e-3],[550.11,0.06e-3],
  [550.37,0.1e-3],[550.63,0.19e-3],[550.89,0.28e-3],[551.15,0.5e-3],[551.41,0.54e-3],[551.67,0.76e-3],
  [551.94,0.89e-3],[552.2,0.93e-3],[552.46,0.93e-3],[552.72,0.54e-3],[552.93,0.06e-3],[553.14,0.19e-3],
  [553.35,0.32e-3],[553.61,0.1e-3],[553.87,-0.24e-3],[554.13,-0.68e-3],[554.39,-1.03e-3],[554.65,-1.2e-3],
  [554.91,-0.94e-3],[555.18,-0.72e-3],[555.44,-0.68e-3],[555.7,-0.24e-3],[555.96,0.1e-3],[556.22,0.23e-3],
  [556.48,0.15e-3],[556.74,0.15e-3],[557.01,0.37e-3],[557.27,0.41e-3],[557.53,-0.24e-3],[557.79,-0.94e-3],
  [558.05,-1.46e-3],[558.31,-1.63e-3],[558.57,-1.81e-3],[558.89,-2.05e-3],[559.1,-1.9e-3],[559.36,-1.77e-3],
  [559.62,-1.55e-3],[559.88,-1.37e-3],[560.14,-1.33e-3],[560.4,-1.11e-3],[560.67,-0.5e-3],[560.93,-0.33e-3],
  [561.19,-0.2e-3],[561.45,-0.5e-3],[561.71,-0.85e-3],[561.97,-0.68e-3],[562.23,-0.59e-3],[562.49,-0.94e-3],
  [562.76,-1.14e-3],[563.02,-1.03e-3],[563.28,-0.98e-3],[563.54,-0.94e-3],[563.8,-0.85e-3],[564.06,-0.81e-3],
  [564.32,-0.33e-3],[564.59,0.02e-3],[564.85,0.1e-3],[565.11,0.45e-3],[565.37,1.23e-3],[565.63,1.58e-3],
  [565.89,1.71e-3],[566.15,1.67e-3],[566.41,1.54e-3],[566.68,1.41e-3],[566.94,1.02e-3],[567.2,0.97e-3],
  [567.46,1.19e-3],[567.72,1.02e-3],[567.98,1.15e-3],[568.24,1.06e-3],[568.51,0.76e-3],[568.77,0.71e-3],
  [569.03,0.97e-3],[569.29,0.58e-3],[569.55,0.54e-3],[569.81,0.71e-3],[570.07,1.15e-3],[570.34,1.63e-3],
  [570.6,1.83e-3],[570.86,1.71e-3],[571.01,1.06e-3],[571.22,0.97e-3],[571.43,0.99e-3],[571.64,0.8e-3],
  [571.9,0.76e-3],[572.17,0.67e-3],[572.43,0.45e-3],[572.69,0.02e-3],[572.95,-0.24e-3],[573.21,-0.29e-3],
  [573.47,-0.16e-3],[573.73,-0.07e-3],[574.0,-0.33e-3],[574.26,-0.55e-3],[574.52,-0.33e-3],[574.78,-0.07e-3],
  [575.04,-0.42e-3],[575.3,-0.68e-3],[575.56,-0.85e-3],[575.82,-0.59e-3],[576.09,-0.81e-3],[576.35,-1.16e-3],
  [576.61,-1.2e-3],[576.87,-1.07e-3],[577.13,-1.2e-3],[577.29,-1.5e-3]
];

// ---------------------------------------------------------------------------
// Layout
// ---------------------------------------------------------------------------
const svg = d3.select("#chart");
const plotLeft = 196, plotRight = 1096;
const x = d3.scaleLinear().domain([498, 580]).range([plotLeft, plotRight]);

const locale = d3.formatLocale({ decimal: ".", thousands: ",", grouping: [3], currency: ["", ""], minus: "-" });

const panels = [
  { main: "O",  sub: "3", tail: "",  domain: [-0.02, 0.04],    ticks: o3Ticks,  minor: o3Minor,  fmt: ".2f", fit: o3Fit,   meas: o3Meas,   top: 21,   bottom: 211,  lx: 242, ly: 68 },
  { main: "NO", sub: "2", tail: "",  domain: [-0.004, 0.002],  ticks: no2Ticks, minor: no2Minor, fmt: ".3f", fit: no2Fit,  meas: no2Meas,  top: 279,  bottom: 471,  lx: 229, ly: 322 },
  { main: "H",  sub: "2", tail: "O", domain: [-0.010, 0.002],  ticks: h2oTicks, minor: h2oMinor, fmt: ".3f", fit: h2oFit,  meas: h2oMeas,  top: 535,  bottom: 727,  lx: 328, ly: 697 },
  { main: "O",  sub: "4", tail: "",  domain: [-0.10, 0.0015],  ticks: o4Ticks,  minor: o4Minor,  fmt: ".2f", fit: o4Fit,   meas: o4Meas,   top: 792,  bottom: 984,  lx: 237, ly: 859 },
  { main: "Ring", sub: "", tail: "", domain: [-0.003, 0.007],  ticks: ringTicks, minor: ringMinor, fmt: ".3f", fit: ringFit, meas: ringMeas, top: 1049, bottom: 1241, lx: 219, ly: 1129 },
  { main: "residual", sub: "", tail: "", domain: [-0.003, 0.002], ticks: residualTicks, minor: residualMinor, fmt: ".3f", fit: null, meas: residual, top: 1304, bottom: 1498, lx: 221, ly: 1318 }
];

const gridColor = "#3a3a3a";

panels.forEach((p) => {
  const y = d3.scaleLinear().domain(p.domain).range([p.bottom, p.top]);
  const g = svg.append("g");
  const fmt = locale.format(p.fmt);

  // horizontal grid lines at labelled values
  g.selectAll("line.grid").data(p.ticks).join("line")
    .attr("x1", plotLeft).attr("x2", plotRight)
    .attr("y1", d => y(d)).attr("y2", d => y(d))
    .attr("stroke", gridColor).attr("stroke-width", 1.3);

  // y axis line
  g.append("line")
    .attr("x1", plotLeft).attr("x2", plotLeft)
    .attr("y1", p.top).attr("y2", p.bottom)
    .attr("stroke", "#000").attr("stroke-width", 2);

  // major + minor ticks
  g.selectAll("line.major").data(p.ticks).join("line")
    .attr("x1", plotLeft - 16).attr("x2", plotLeft)
    .attr("y1", d => y(d)).attr("y2", d => y(d))
    .attr("stroke", "#000").attr("stroke-width", 2);
  g.selectAll("line.minor").data(p.minor).join("line")
    .attr("x1", plotLeft - 8).attr("x2", plotLeft)
    .attr("y1", d => y(d)).attr("y2", d => y(d))
    .attr("stroke", "#000").attr("stroke-width", 2);

  // tick labels
  g.selectAll("text.tick").data(p.ticks).join("text")
    .attr("x", 162).attr("y", d => y(d) + 10.3)
    .attr("text-anchor", "end")
    .attr("font-size", 29)
    .text(d => fmt(d));

  // fitted cross section (red) under the measured optical depth (black)
  if (p.fit) {
    const fitLine = d3.line().x(d => x(d[0])).y(d => y(d[1])).curve(d3.curveCatmullRom.alpha(0.5));
    g.append("path").datum(p.fit)
      .attr("d", fitLine)
      .attr("fill", "none").attr("stroke", "#ff0000")
      .attr("stroke-width", 3.2).attr("stroke-linejoin", "round").attr("stroke-linecap", "round");
  }
  const measLine = d3.line().x(d => x(d[0])).y(d => y(d[1]));
  g.append("path").datum(p.meas)
    .attr("d", measLine)
    .attr("fill", "none").attr("stroke", "#000")
    .attr("stroke-width", 1.3).attr("stroke-linejoin", "round");

  // species label with subscript
  const t = g.append("text")
    .attr("x", p.lx).attr("y", p.ly)
    .attr("font-size", 43).attr("font-weight", "bold");
  t.append("tspan").text(p.main);
  if (p.sub) {
    t.append("tspan").attr("font-size", 37).attr("dy", 10).text(p.sub);
    if (p.tail) t.append("tspan").attr("dy", -10).text(p.tail);
  }
});

// wavelength axis along the bottom panel
const axisY = panels[panels.length - 1].bottom;
svg.append("line")
  .attr("x1", plotLeft).attr("x2", plotRight)
  .attr("y1", axisY).attr("y2", axisY)
  .attr("stroke", "#000").attr("stroke-width", 2);
svg.selectAll("line.xmajor").data(wavelengthTicks).join("line")
  .attr("x1", d => x(d)).attr("x2", d => x(d))
  .attr("y1", axisY).attr("y2", axisY + 16)
  .attr("stroke", "#000").attr("stroke-width", 2);
svg.selectAll("line.xminor").data(wavelengthMinorTicks).join("line")
  .attr("x1", d => x(d)).attr("x2", d => x(d))
  .attr("y1", axisY).attr("y2", axisY + 8)
  .attr("stroke", "#000").attr("stroke-width", 2);
svg.selectAll("text.xtick").data(wavelengthTicks).join("text")
  .attr("x", d => x(d)).attr("y", 1562)
  .attr("text-anchor", "middle").attr("font-size", 32)
  .text(d => d);

// axis titles
svg.append("text")
  .attr("x", (plotLeft + plotRight) / 2).attr("y", 1608)
  .attr("text-anchor", "middle").attr("font-size", 43.5)
  .text("Wavelength [nm]");
svg.append("text")
  .attr("transform", "translate(46,792) rotate(-90)")
  .attr("text-anchor", "middle").attr("font-size", 44)
  .text("optical depth");
</script>
</body>
</html>
